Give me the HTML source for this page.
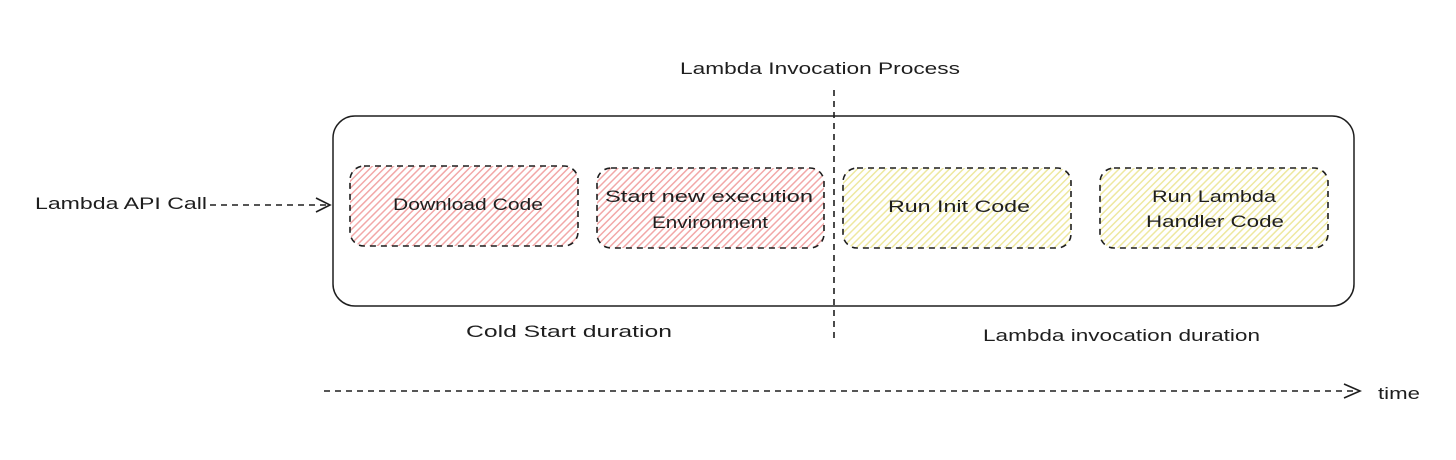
<!DOCTYPE html>
<html><head><style>
html,body{margin:0;padding:0;background:#fff;}
svg{display:block;}
text{font-family:"Liberation Sans",sans-serif;font-size:17px;fill:#1e1e1e;}
</style></head><body>
<svg width="1456" height="460" viewBox="0 0 1456 460" xmlns="http://www.w3.org/2000/svg">
<defs>
<pattern id="red" width="5" height="5" patternUnits="userSpaceOnUse" patternTransform="rotate(45)">
<rect width="5" height="5" fill="#fff"/><rect width="1.5" height="5" fill="#f2a8a8"/></pattern>
<pattern id="yel" width="5" height="5" patternUnits="userSpaceOnUse" patternTransform="rotate(45)">
<rect width="5" height="5" fill="#fff"/><rect width="1.5" height="5" fill="#eee8a0"/></pattern>
</defs>
<rect x="333" y="116" width="1021" height="190" rx="22" fill="none" stroke="#1e1e1e" stroke-width="1.5"/>
<g stroke="#1e1e1e" stroke-width="1.6" stroke-dasharray="6 5">
<rect x="350" y="166" width="228" height="80" rx="14" fill="url(#red)"/>
<rect x="597" y="168" width="227" height="80" rx="14" fill="url(#red)"/>
<rect x="843" y="168" width="228" height="80" rx="14" fill="url(#yel)"/>
<rect x="1100" y="168" width="228" height="80" rx="14" fill="url(#yel)"/>
<line x1="834" y1="90" x2="834" y2="342"/>
<line x1="210" y1="205" x2="328" y2="205"/>
<line x1="324" y1="391" x2="1358" y2="391"/>
</g>
<g stroke="#1e1e1e" stroke-width="1.6" fill="none">
<path d="M316 198 L330 205 L316 212"/>
<path d="M1344 384 L1360 391 L1344 398"/>
</g>
<text x="680" y="74" textLength="280" lengthAdjust="spacingAndGlyphs">Lambda Invocation Process</text>
<text x="35" y="209" textLength="172" lengthAdjust="spacingAndGlyphs">Lambda API Call</text>
<text x="393" y="210" textLength="150" lengthAdjust="spacingAndGlyphs">Download Code</text>
<text x="605" y="202" textLength="208" lengthAdjust="spacingAndGlyphs">Start new execution</text>
<text x="652" y="228" textLength="116" lengthAdjust="spacingAndGlyphs">Environment</text>
<text x="888" y="212" textLength="142" lengthAdjust="spacingAndGlyphs">Run Init Code</text>
<text x="1152" y="202" textLength="124" lengthAdjust="spacingAndGlyphs">Run Lambda</text>
<text x="1146" y="227" textLength="138" lengthAdjust="spacingAndGlyphs">Handler Code</text>
<text x="466" y="337" textLength="206" lengthAdjust="spacingAndGlyphs">Cold Start duration</text>
<text x="983" y="341" textLength="277" lengthAdjust="spacingAndGlyphs">Lambda invocation duration</text>
<text x="1378" y="399" textLength="42" lengthAdjust="spacingAndGlyphs">time</text>
</svg>
</body></html>
